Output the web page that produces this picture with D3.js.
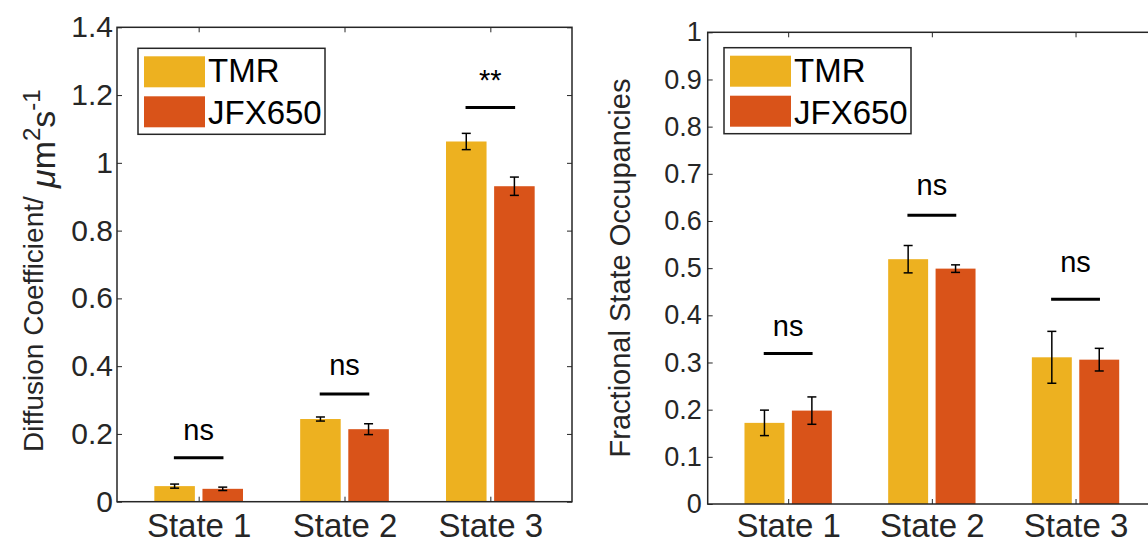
<!DOCTYPE html>
<html>
<head>
<meta charset="utf-8">
<script src="https://cdn.jsdelivr.net/npm/d3@7"></script>
<style>
  body { margin: 0; background: #fff; overflow: hidden; }
  svg { display: block; font-family: "Liberation Sans", Arial, sans-serif; }
</style>
</head>
<body>
<svg id="chart" width="1148" height="543"></svg>
<script>
// === DATA ===
const states = ["State 1", "State 2", "State 3"];
const dyes = ["TMR", "JFX650"];
const dyeColors = ["#EDB120", "#D95319"];

// diffusion coefficient (um^2/s), mean and error
const diffTMR = [0.046, 0.244, 1.063];
const diffTMRErr = [0.006, 0.006, 0.024];
const diffJFX = [0.038, 0.214, 0.931];
const diffJFXErr = [0.005, 0.016, 0.027];
const diffSig = ["ns", "ns", "**"];
const diffSigLine = [0.130, 0.318, 1.163];
const diffSigText = [0.182, 0.375, 1.215];
const diffTicks = [0, 0.2, 0.4, 0.6, 0.8, 1, 1.2, 1.4];

// fractional state occupancies
const occTMR = [0.172, 0.519, 0.311];
const occTMRErr = [0.027, 0.029, 0.055];
const occJFX = [0.198, 0.499, 0.306];
const occJFXErr = [0.029, 0.008, 0.024];
const occSig = ["ns", "ns", "ns"];
const occSigLine = [0.319, 0.612, 0.434];
const occSigText = [0.356, 0.655, 0.491];
const occTicks = [0, 0.1, 0.2, 0.3, 0.4, 0.5, 0.6, 0.7, 0.8, 0.9, 1];

const axisColor = "#262626";
const svg = d3.select("#chart");

// === ONE PANEL ===
function drawPanel(p) {
    const x = d3.scaleLinear().domain([0.44, 3.56]).range([p.left, p.right]);
    const y = d3.scaleLinear().domain([0, p.yMax]).range([p.bottom, p.top]);
    const g = svg.append("g");

    // bars: group offset +-0.165, bar width 0.278 (data units)
    const barW = 0.278, off = 0.165;
    const series = [
        { vals: p.tmr, errs: p.tmrErr, shift: -off, color: dyeColors[0] },
        { vals: p.jfx, errs: p.jfxErr, shift: off, color: dyeColors[1] }
    ];
    series.forEach(s => {
        g.selectAll(null).data(s.vals).enter().append("rect")
            .attr("x", (d, i) => x(i + 1 + s.shift - barW / 2))
            .attr("width", x(barW) - x(0))
            .attr("y", d => y(d))
            .attr("height", d => y(0) - y(d))
            .attr("fill", s.color);
    });

    // error bars
    series.forEach(s => {
        s.vals.forEach((v, i) => {
            const cx = x(i + 1 + s.shift);
            const lo = y(v - s.errs[i]), hi = y(v + s.errs[i]);
            g.append("line").attr("x1", cx).attr("x2", cx).attr("y1", lo).attr("y2", hi)
                .attr("stroke", "#000").attr("stroke-width", 1.5);
            [lo, hi].forEach(yy => {
                g.append("line").attr("x1", cx - 4.5).attr("x2", cx + 4.5).attr("y1", yy).attr("y2", yy)
                    .attr("stroke", "#000").attr("stroke-width", 1.5);
            });
        });
    });

    // significance lines and labels
    p.sig.forEach((lab, i) => {
        g.append("line")
            .attr("x1", x(i + 1 - 0.17)).attr("x2", x(i + 1 + 0.17))
            .attr("y1", y(p.sigLine[i])).attr("y2", y(p.sigLine[i]))
            .attr("stroke", "#000").attr("stroke-width", 3);
        g.append("text")
            .attr("x", x(i + 1)).attr("y", y(p.sigText[i]))
            .attr("text-anchor", "middle")
            .attr("font-size", 29).attr("fill", "#000")
            .text(lab);
    });

    // axes box
    g.append("rect")
        .attr("x", p.left).attr("y", p.top)
        .attr("width", p.right - p.left).attr("height", p.bottom - p.top)
        .attr("fill", "none").attr("stroke", axisColor).attr("stroke-width", 1.5);

    const yAxis = g.append("g").attr("transform", `translate(${p.left},0)`)
        .call(d3.axisLeft(y).tickValues(p.ticks).tickSizeInner(-5).tickSizeOuter(0)
            .tickPadding(p.labelPad).tickFormat(d3.format("")));
    yAxis.select(".domain").remove();
    yAxis.selectAll(".tick line").attr("stroke", axisColor);
    yAxis.selectAll(".tick text").attr("font-size", p.yFont).attr("fill", axisColor)
        .attr("font-family", "Liberation Sans, Arial, sans-serif");

    const yRight = g.append("g").attr("transform", `translate(${p.right},0)`)
        .call(d3.axisRight(y).tickValues(p.ticks).tickSizeInner(-5).tickSizeOuter(0).tickFormat(""));
    yRight.select(".domain").remove();
    yRight.selectAll(".tick line").attr("stroke", axisColor);

    const xAxis = g.append("g").attr("transform", `translate(0,${p.bottom})`)
        .call(d3.axisBottom(x).tickValues([1, 2, 3]).tickSizeInner(-5).tickSizeOuter(0)
            .tickPadding(0).tickFormat(d => states[d - 1]));
    xAxis.select(".domain").remove();
    xAxis.selectAll(".tick line").attr("stroke", axisColor);
    xAxis.selectAll(".tick text").attr("font-size", 33).attr("fill", axisColor)
        .attr("font-family", "Liberation Sans, Arial, sans-serif")
        .attr("y", p.xLabelY).attr("dy", 0);

    const xTop = g.append("g").attr("transform", `translate(0,${p.top})`)
        .call(d3.axisTop(x).tickValues([1, 2, 3]).tickSizeInner(-5).tickSizeOuter(0).tickFormat(""));
    xTop.select(".domain").remove();
    xTop.selectAll(".tick line").attr("stroke", axisColor);

    // legend
    const lg = g.append("g");
    lg.append("rect")
        .attr("x", p.left + p.legX).attr("y", p.top + p.legY)
        .attr("width", p.legW).attr("height", 86)
        .attr("fill", "#fff").attr("stroke", axisColor).attr("stroke-width", 1.5);
    dyes.forEach((name, i) => {
        lg.append("rect")
            .attr("x", p.left + p.legX + 6).attr("y", p.top + p.legY + 8 + i * 40)
            .attr("width", 61).attr("height", 31)
            .attr("fill", dyeColors[i]);
        lg.append("text")
            .attr("x", p.left + p.legX + 70).attr("y", p.top + p.legY + 34 + i * 42)
            .attr("font-size", 33).attr("fill", "#000")
            .text(name);
    });
}

// === LEFT: DIFFUSION COEFFICIENT ===
drawPanel({
    left: 117, right: 572, top: 27.3, bottom: 501.7, yMax: 1.4,
    tmr: diffTMR, tmrErr: diffTMRErr, jfx: diffJFX, jfxErr: diffJFXErr,
    sig: diffSig, sigLine: diffSigLine, sigText: diffSigText,
    ticks: diffTicks, yFont: 30, labelPad: 4, xLabelY: 35,
    legX: 21, legY: 21, legW: 187
});

// y title with units
const tl = svg.append("g").attr("transform", "rotate(-90)");
tl.append("text")
    .attr("x", -452).attr("y", 43)
    .attr("font-size", 28).attr("fill", axisColor)
    .text("Diffusion Coefficient/");
const units = tl.append("text")
    .attr("x", -188).attr("y", 55)
    .attr("font-size", 34).attr("fill", axisColor);
units.append("tspan").attr("font-style", "italic").text("\u03bc");
units.append("tspan").text("m");
units.append("tspan").attr("dy", -15).attr("font-size", 24).text("2");
units.append("tspan").attr("dy", 15).text("s");
units.append("tspan").attr("dy", -15).attr("font-size", 24).text("-1");

// === RIGHT: FRACTIONAL OCCUPANCIES ===
drawPanel({
    left: 707.7, right: 1156, top: 32.3, bottom: 504, yMax: 1,
    tmr: occTMR, tmrErr: occTMRErr, jfx: occJFX, jfxErr: occJFXErr,
    sig: occSig, sigLine: occSigLine, sigText: occSigText,
    ticks: occTicks, yFont: 27, labelPad: 6, xLabelY: 33,
    legX: 16.3, legY: 15.4, legW: 187
});

svg.append("text")
    .attr("transform", "translate(630,268) rotate(-90)")
    .attr("text-anchor", "middle")
    .attr("font-size", 29).attr("fill", axisColor)
    .text("Fractional State Occupancies");
</script>
</body>
</html>
